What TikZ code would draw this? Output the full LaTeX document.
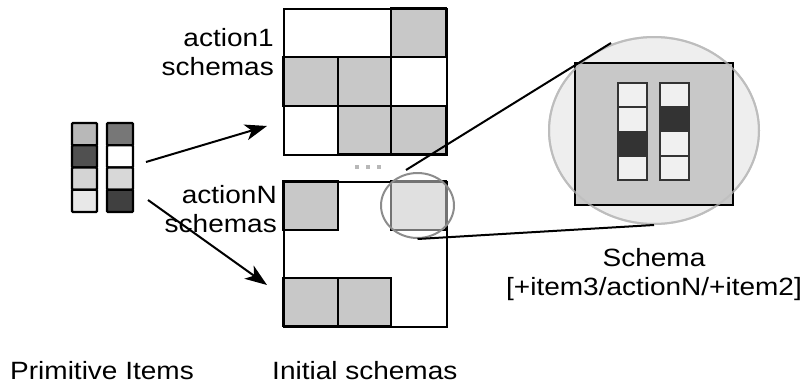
\documentclass[tikz,border=0pt]{standalone}
\usepackage{fontspec}
\setmainfont{Liberation Sans}
\usetikzlibrary{arrows.meta,shapes.geometric}
\definecolor{cellgray}{HTML}{C8C8C8}
\definecolor{ringgray}{HTML}{8C8C8C}
\definecolor{bigring}{HTML}{BDBDBD}
\definecolor{bigfill}{HTML}{EEEEEE}
\definecolor{bitoff}{HTML}{F0F0F0}
\definecolor{biton}{HTML}{333333}
\begin{document}
\begin{tikzpicture}[x=1pt,y=-1pt,
  lbl/.style={font=\fontsize{25}{28.5}\selectfont, inner sep=0pt, xscale=1.12},
  frame/.style={draw=black, line width=2pt, inner sep=0pt, anchor=north west},
  cellon/.style={draw=black, line width=2pt, fill=cellgray},
  itemcell/.style={draw=black, line width=2.4pt, rounded corners=1pt},
  bitcell/.style={draw=biton, line width=1.8pt, fill=bitoff},
  link/.style={draw=black, line width=2pt},
  arr/.style={draw=black, line width=2pt, -{Stealth[length=22pt,width=16pt,inset=6pt]}},
  dot/.style={fill=black!28}]
\useasboundingbox (0,0) rectangle (809,386);

% ---- primitive items: two columns of four cells
\foreach \c [count=\i from 0] in {B8B8B8,505050,D4D4D4,E8E8E8}{
  \definecolor{tmp}{HTML}{\c}
  \draw[itemcell, fill=tmp] (72,123+\i*22.25) rectangle (97,123+\i*22.25+22.25);
}
\foreach \c [count=\i from 0] in {777777,FFFFFF,D8D8D8,404040}{
  \definecolor{tmp}{HTML}{\c}
  \draw[itemcell, fill=tmp] (107,123+\i*22.25) rectangle (133,123+\i*22.25+22.25);
}
\coordinate (itemsout1) at (146,162);
\coordinate (itemsout2) at (148,200);

% ---- action1 schema grid
\draw[cellon] (391,8) rectangle (446,57);
\draw[cellon] (283,57) rectangle (337.5,106);
\draw[cellon] (337.5,57) rectangle (391,106);
\draw[cellon] (337.5,106) rectangle (391,154);
\draw[cellon] (391,106) rectangle (446,154);
\draw[line width=2pt] (391,57) -- (391,106);
\node[frame, minimum width=163pt, minimum height=146pt] (grid1) at (283,8) {};

% ---- dots between the grids
\fill[dot] (355,165) rectangle (359,169);
\fill[dot] (366,165) rectangle (370,169);
\fill[dot] (377,165) rectangle (381,169);

% ---- actionN schema grid
\draw[cellon] (283,181) rectangle (337.5,229.5);
\draw[cellon] (391,181) rectangle (446,229.5);
\draw[cellon] (283,278) rectangle (337.5,326);
\draw[cellon] (337.5,278) rectangle (391,326);
\node[frame, minimum width=163pt, minimum height=145pt] (gridN) at (283,181) {};

% ---- highlight on one schema
\node[ellipse, draw=ringgray, line width=2pt, fill=white, fill opacity=0.45,
      minimum width=73pt, minimum height=65pt, inner sep=0pt] (zoomsrc) at (417.5,205.5) {};

% ---- enlarged schema
\node[ellipse, draw=bigring, line width=2pt, fill=bigfill,
      minimum width=210pt, minimum height=187pt, inner sep=0pt] (zoomdst) at (654,130.5) {};
\node[frame, fill=cellgray, minimum width=158pt, minimum height=142pt] (schemabox) at (574,62) {};
\node[ellipse, draw=bigring, draw opacity=0.7, line width=2pt,
      minimum width=210pt, minimum height=187pt, inner sep=0pt] at (654,130.5) {};
\foreach \v [count=\i from 0] in {0,0,1,0}{
  \ifnum\v=1 \def\fc{biton}\else\def\fc{bitoff}\fi
  \draw[bitcell, fill=\fc] (618,83+\i*24.25) rectangle (647,83+\i*24.25+24.25);
}
\foreach \v [count=\i from 0] in {0,1,0,0}{
  \ifnum\v=1 \def\fc{biton}\else\def\fc{bitoff}\fi
  \draw[bitcell, fill=\fc] (660,83+\i*24.25) rectangle (689,83+\i*24.25+24.25);
}

% ---- zoom lines
\coordinate (srctop) at (406,170);
\coordinate (dsttop) at (611,43);
\draw[link] (srctop) -- (dsttop);
\draw[link] (zoomsrc.south) -- (zoomdst.south);

% ---- arrows from the items to the grids
\coordinate (grid1in) at (267,126);
\coordinate (gridNin) at (267,285);
\draw[arr] (itemsout1) -- (grid1in);
\draw[arr] (itemsout2) -- (gridNin);

% ---- labels (base anchor sits on the last line)
\node[lbl, align=right, anchor=base east] (a1lbl) at (274,75) {action1\\schemas};
\node[lbl, align=right, anchor=base east] (anlbl) at (277,232) {actionN\\schemas};
\node[lbl, align=center, anchor=base] (schlbl) at (654,295) {Schema\\{}[+item3/actionN/+item2]};
\node[lbl, anchor=base west] (primlbl) at (10,379) {Primitive Items};
\node[lbl, anchor=base west] (initlbl) at (272,379) {Initial schemas};
\end{tikzpicture}
\end{document}
